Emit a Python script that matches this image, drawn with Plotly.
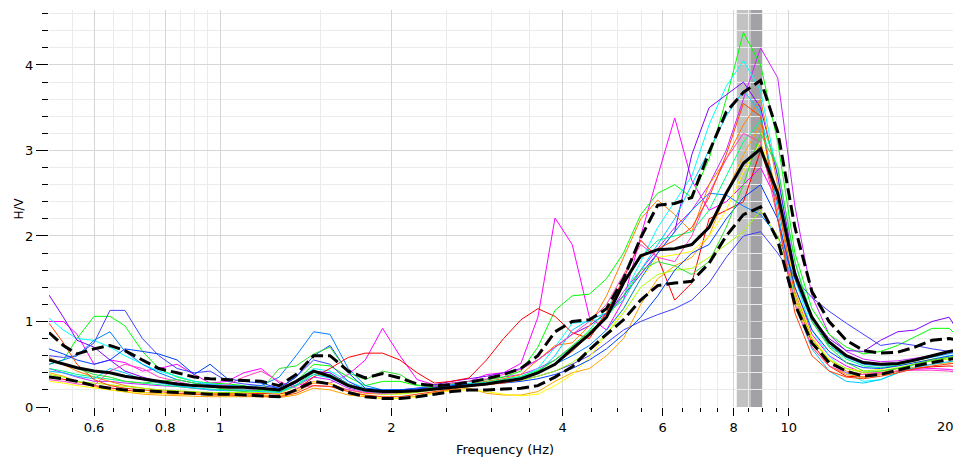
import math
import plotly.graph_objects as go

# ---------------- data ----------------
FREQ = [0.5, 0.53, 0.56, 0.6, 0.64, 0.68, 0.73, 0.78, 0.84, 0.9,
        0.96, 1.03, 1.1, 1.18, 1.27, 1.36, 1.46, 1.56, 1.68, 1.8,
        1.93, 2.07, 2.22, 2.38, 2.55, 2.74, 2.94, 3.15, 3.38, 3.62,
        3.88, 4.16, 4.46, 4.78, 5.12, 5.49, 5.88, 6.3, 6.75, 7.24,
        7.76, 8.32, 8.92, 9.56, 10.25, 10.98, 11.77, 12.62, 13.53, 14.5,
        15.54, 16.66, 17.86, 19.14, 20.0]

MEAN = [0.55, 0.5, 0.46, 0.42, 0.4, 0.36, 0.33, 0.3, 0.27, 0.25,
        0.24, 0.23, 0.23, 0.22, 0.2, 0.3, 0.42, 0.36, 0.25, 0.2,
        0.18, 0.18, 0.19, 0.21, 0.23, 0.25, 0.27, 0.3, 0.33, 0.4,
        0.5, 0.68, 0.85, 1.05, 1.45, 1.77, 1.84, 1.85, 1.9, 2.1,
        2.5, 2.85, 3.02, 2.5, 1.55, 1.05, 0.76, 0.6, 0.52, 0.5,
        0.51, 0.55, 0.6, 0.65, 0.67]

STD_UP = [0.87, 0.72, 0.62, 0.68, 0.72, 0.66, 0.55, 0.45, 0.4, 0.35,
          0.33, 0.32, 0.31, 0.3, 0.25, 0.38, 0.6, 0.6, 0.42, 0.34,
          0.39, 0.34, 0.27, 0.25, 0.26, 0.29, 0.33, 0.38, 0.45, 0.6,
          0.88, 1.0, 1.02, 1.15, 1.5, 1.98, 2.36, 2.38, 2.45, 2.98,
          3.45, 3.68, 3.82, 3.22, 2.1, 1.35, 1.0, 0.78, 0.66, 0.63,
          0.64, 0.7, 0.78, 0.8, 0.78]

STD_LOW = [0.35, 0.33, 0.3, 0.25, 0.22, 0.2, 0.19, 0.18, 0.17, 0.16,
           0.15, 0.15, 0.14, 0.13, 0.12, 0.2, 0.3, 0.27, 0.17, 0.12,
           0.1, 0.1, 0.12, 0.15, 0.18, 0.2, 0.2, 0.21, 0.22, 0.25,
           0.35, 0.47, 0.67, 0.85, 1.02, 1.25, 1.42, 1.45, 1.47, 1.68,
           2.0, 2.25, 2.34, 1.95, 1.2, 0.75, 0.52, 0.42, 0.36, 0.38,
           0.43, 0.48, 0.52, 0.56, 0.58]

W01 = [1.0, 1.0, 0.85, 0.5, 0.55, 0.52, 0.42, 0.45, 0.5, 0.38,
       0.28, 0.3, 0.4, 0.45, 0.28, 0.25, 0.3, 0.28, 0.38, 0.55,
       0.92, 0.6, 0.32, 0.26, 0.25, 0.3, 0.38, 0.4, 0.51, 1.05,
       2.21, 1.9, 1.05, 0.9, 1.25, 2.0, 2.7, 3.38, 2.65, 2.3,
       2.4, 2.6, 2.8, 2.4, 1.4, 0.85, 0.6, 0.48, 0.4, 0.4,
       0.42, 0.44, 0.45, 0.44, 0.42]
W02 = [0.45, 0.4, 0.35, 0.3, 0.3, 0.28, 0.26, 0.25, 0.24, 0.22,
       0.2, 0.2, 0.2, 0.2, 0.18, 0.25, 0.35, 0.32, 0.22, 0.18,
       0.16, 0.17, 0.2, 0.24, 0.28, 0.3, 0.32, 0.35, 0.38, 0.45,
       0.55, 0.7, 0.85, 1.05, 1.35, 1.6, 1.85, 2.1, 2.3, 2.6,
       3.0, 3.6, 4.2, 3.85, 2.35, 1.3, 0.85, 0.65, 0.56, 0.53,
       0.54, 0.57, 0.6, 0.64, 0.66]
W03 = [0.5, 0.55, 0.8, 1.06, 1.06, 0.95, 0.65, 0.45, 0.35, 0.3,
       0.28, 0.27, 0.25, 0.2, 0.18, 0.3, 0.5, 0.48, 0.35, 0.25,
       0.3, 0.3, 0.25, 0.25, 0.27, 0.3, 0.32, 0.35, 0.42, 0.7,
       1.13, 1.3, 1.32, 1.5, 1.8, 2.25, 2.5, 2.6, 2.45, 2.9,
       3.6, 4.38, 4.0, 3.1, 1.8, 1.15, 0.85, 0.7, 0.62, 0.65,
       0.72, 0.82, 0.92, 0.92, 0.8]
W04 = [1.04, 0.9, 0.8, 0.78, 0.7, 0.6, 0.5, 0.42, 0.36, 0.3,
       0.27, 0.25, 0.24, 0.22, 0.2, 0.3, 0.45, 0.42, 0.3, 0.22,
       0.2, 0.2, 0.2, 0.23, 0.25, 0.28, 0.3, 0.33, 0.35, 0.45,
       0.7, 0.98, 1.0, 1.05, 1.3, 1.7, 2.1, 2.4, 2.7, 3.3,
       3.75, 4.05, 3.7, 2.7, 1.5, 0.9, 0.6, 0.4, 0.3, 0.32,
       0.4, 0.5, 0.56, 0.6, 0.62]
W05 = [1.31, 1.05, 0.78, 0.7, 0.55, 0.42, 0.35, 0.3, 0.28, 0.25,
       0.24, 0.24, 0.23, 0.22, 0.2, 0.28, 0.42, 0.4, 0.27, 0.2,
       0.19, 0.2, 0.22, 0.26, 0.3, 0.33, 0.36, 0.4, 0.45, 0.55,
       0.7, 0.85, 0.95, 1.1, 1.3, 1.55, 1.8, 2.05, 2.95, 3.5,
       3.65, 3.8, 3.5, 2.7, 1.6, 1.05, 0.8, 0.66, 0.65, 0.78,
       0.88, 0.9, 1.0, 1.05, 0.85]
W06 = [0.6, 0.58, 0.6, 0.75, 1.13, 1.13, 0.8, 0.6, 0.45, 0.4,
       0.42, 0.3, 0.27, 0.25, 0.22, 0.35, 0.55, 0.5, 0.3, 0.2,
       0.18, 0.18, 0.2, 0.22, 0.24, 0.26, 0.28, 0.3, 0.32, 0.36,
       0.42, 0.5, 0.6, 0.75, 0.9, 1.0, 1.08, 1.15, 1.25, 1.45,
       1.75, 2.0, 2.05, 1.8, 1.5, 1.28, 1.12, 0.98, 0.85, 0.72,
       0.75, 0.72, 0.68, 0.65, 0.62]
W07 = [0.35, 0.32, 0.3, 0.25, 0.22, 0.2, 0.17, 0.16, 0.15, 0.15,
       0.15, 0.15, 0.15, 0.16, 0.15, 0.2, 0.35, 0.45, 0.58, 0.63,
       0.63, 0.55, 0.4, 0.28, 0.3, 0.34, 0.55, 0.8, 1.02, 1.15,
       1.06, 0.87, 0.8, 1.1, 1.5, 1.95, 1.75, 1.25, 1.45, 2.2,
       2.3, 2.4, 3.0, 2.4, 1.3, 0.75, 0.48, 0.36, 0.35, 0.38,
       0.42, 0.45, 0.47, 0.48, 0.47]
W08 = [0.58, 0.5, 0.42, 0.35, 0.3, 0.25, 0.22, 0.2, 0.18, 0.17,
       0.16, 0.16, 0.15, 0.14, 0.13, 0.18, 0.28, 0.27, 0.2, 0.16,
       0.15, 0.16, 0.18, 0.2, 0.24, 0.27, 0.3, 0.33, 0.38, 0.55,
       0.72, 0.75, 0.95, 1.3, 1.75, 2.2, 2.42, 2.25, 2.05, 2.6,
       2.9, 3.3, 3.6, 2.6, 1.35, 0.8, 0.55, 0.42, 0.38, 0.4,
       0.45, 0.5, 0.55, 0.58, 0.6]
W09 = [0.4, 0.36, 0.3, 0.24, 0.2, 0.18, 0.15, 0.14, 0.13, 0.12,
       0.12, 0.12, 0.12, 0.12, 0.11, 0.14, 0.22, 0.2, 0.14, 0.12,
       0.1, 0.1, 0.13, 0.17, 0.2, 0.22, 0.16, 0.14, 0.14, 0.18,
       0.3, 0.4, 0.45, 0.6, 0.8, 1.2, 1.5, 1.65, 1.75, 2.0,
       2.5, 2.95, 3.3, 2.45, 1.25, 0.7, 0.48, 0.38, 0.35, 0.38,
       0.42, 0.47, 0.5, 0.52, 0.55]
W10 = [0.3, 0.28, 0.25, 0.22, 0.2, 0.18, 0.17, 0.16, 0.15, 0.15,
       0.14, 0.14, 0.14, 0.14, 0.13, 0.2, 0.3, 0.28, 0.18, 0.13,
       0.1, 0.1, 0.12, 0.16, 0.19, 0.2, 0.18, 0.15, 0.13, 0.15,
       0.25, 0.38, 0.58, 0.85, 1.15, 1.5, 1.75, 1.78, 1.82, 2.0,
       2.3, 2.75, 3.1, 2.5, 1.4, 0.82, 0.56, 0.45, 0.42, 0.44,
       0.48, 0.52, 0.56, 0.58, 0.6]
W11 = [0.5, 0.55, 0.6, 0.78, 0.88, 0.65, 0.5, 0.4, 0.32, 0.28,
       0.26, 0.25, 0.24, 0.25, 0.35, 0.6, 0.88, 0.85, 0.45, 0.25,
       0.2, 0.2, 0.22, 0.24, 0.26, 0.27, 0.28, 0.3, 0.33, 0.4,
       0.5, 0.6, 0.72, 0.9, 1.15, 1.5, 1.8, 2.05, 2.3, 2.5,
       2.48, 2.35, 2.25, 2.0, 1.5, 1.0, 0.72, 0.58, 0.5, 0.48,
       0.5, 0.54, 0.58, 0.62, 0.65]
W12 = [0.38, 0.35, 0.3, 0.28, 0.26, 0.24, 0.22, 0.2, 0.19, 0.18,
       0.17, 0.17, 0.17, 0.17, 0.16, 0.24, 0.38, 0.36, 0.24, 0.18,
       0.15, 0.15, 0.17, 0.2, 0.23, 0.25, 0.27, 0.29, 0.31, 0.36,
       0.42, 0.52, 0.66, 0.85, 1.1, 1.4, 1.55, 1.6, 1.62, 1.75,
       1.9, 2.05, 2.3, 2.0, 1.3, 0.78, 0.55, 0.45, 0.4, 0.42,
       0.46, 0.5, 0.54, 0.56, 0.58]
W13 = [0.45, 0.42, 0.38, 0.35, 0.33, 0.3, 0.28, 0.26, 0.24, 0.22,
       0.21, 0.2, 0.2, 0.19, 0.18, 0.26, 0.4, 0.38, 0.27, 0.2,
       0.17, 0.17, 0.19, 0.22, 0.25, 0.27, 0.29, 0.32, 0.36, 0.43,
       0.55, 0.7, 0.9, 1.15, 1.45, 1.75, 1.95, 2.0, 2.05, 2.3,
       2.7, 3.1, 3.35, 2.8, 1.7, 1.05, 0.72, 0.56, 0.48, 0.46,
       0.49, 0.54, 0.6, 0.65, 0.68]
W14 = [0.42, 0.4, 0.36, 0.33, 0.45, 0.4, 0.32, 0.28, 0.25, 0.22,
       0.2, 0.19, 0.19, 0.18, 0.17, 0.25, 0.38, 0.34, 0.24, 0.18,
       0.16, 0.17, 0.2, 0.23, 0.25, 0.27, 0.28, 0.3, 0.33, 0.4,
       0.6, 0.9, 1.02, 1.1, 1.25, 1.6, 1.9, 2.2, 2.6, 3.0,
       3.4, 3.7, 3.45, 2.3, 1.2, 0.68, 0.42, 0.3, 0.28, 0.32,
       0.4, 0.46, 0.5, 0.53, 0.55]
W15 = [0.32, 0.3, 0.27, 0.25, 0.42, 0.5, 0.45, 0.35, 0.3, 0.25,
       0.24, 0.26, 0.35, 0.42, 0.3, 0.22, 0.25, 0.24, 0.2, 0.17,
       0.16, 0.17, 0.2, 0.24, 0.28, 0.3, 0.33, 0.38, 0.44, 0.55,
       0.7, 0.85, 1.0, 1.2, 1.55, 1.9, 1.75, 1.7, 2.0, 2.5,
       2.9, 3.2, 3.1, 2.2, 1.2, 0.7, 0.48, 0.4, 0.38, 0.4,
       0.42, 0.43, 0.43, 0.42, 0.4]
W16 = [0.68, 0.62, 0.55, 0.5, 0.55, 0.68, 0.65, 0.62, 0.55, 0.38,
       0.5, 0.33, 0.3, 0.28, 0.22, 0.35, 0.6, 0.72, 0.4, 0.22,
       0.2, 0.2, 0.21, 0.23, 0.25, 0.26, 0.27, 0.28, 0.3, 0.33,
       0.38, 0.45, 0.55, 0.68, 0.85, 1.05, 1.3, 1.6, 1.8, 1.9,
       2.2, 2.45, 2.6, 2.2, 1.4, 0.9, 0.65, 0.52, 0.46, 0.45,
       0.48, 0.52, 0.56, 0.6, 0.62]
W17 = [0.98, 0.75, 0.5, 0.32, 0.25, 0.22, 0.2, 0.18, 0.16, 0.15,
       0.14, 0.14, 0.13, 0.13, 0.12, 0.16, 0.25, 0.24, 0.18, 0.14,
       0.12, 0.12, 0.15, 0.18, 0.21, 0.24, 0.26, 0.28, 0.32, 0.4,
       0.5, 0.65, 0.85, 1.1, 1.45, 1.75, 1.85, 1.95, 2.1, 2.45,
       2.95, 3.55, 3.4, 2.2, 1.1, 0.6, 0.42, 0.35, 0.33, 0.36,
       0.4, 0.45, 0.48, 0.5, 0.52]
W18 = [0.55, 0.5, 0.45, 0.38, 0.35, 0.3, 0.28, 0.3, 0.32, 0.28,
       0.24, 0.2, 0.18, 0.2, 0.45, 0.48, 0.62, 0.7, 0.4, 0.32,
       0.42, 0.38, 0.26, 0.22, 0.22, 0.24, 0.27, 0.3, 0.34, 0.42,
       0.55, 0.72, 0.88, 1.05, 1.3, 1.6, 1.7, 1.65, 1.55, 1.7,
       2.1, 2.6, 3.2, 2.8, 1.7, 1.0, 0.7, 0.52, 0.42, 0.42,
       0.45, 0.5, 0.55, 0.58, 0.6]

WINDOWS = [W01, W02, W03, W04, W05, W06, W07, W08, W09,
           W10, W11, W12, W13, W14, W15, W16, W17, W18]
WINDOW_COLORS = ["#ff00ff", "#cc22ff", "#00ff00", "#00ffff", "#8000ff",
                 "#4040ff", "#ff0000", "#ff8000", "#ffa500", "#ffff00",
                 "#0080ff", "#a8ff00", "#00ff80", "#00c8ff", "#ff40c0",
                 "#0040ff", "#ff4000", "#30e030"]

PEAK_BAND = [8.1, 8.58, 9.0]     # f0/std, f0, f0*std

X_TICKS = [0.6, 0.8, 1, 2, 4, 6, 8, 10, 20]
X_TICK_TEXT = ["0.6", "0.8", "1", "2", "4", "6", "8", "10", "20"]
X_MINOR = [0.5, 0.55, 0.65, 0.7, 0.75, 0.85, 0.9, 0.95, 1.5, 2.5, 3, 3.5,
           4.5, 5, 5.5, 6.5, 7, 7.5, 8.5, 9, 9.5, 15]
Y_TICKS = [0, 1, 2, 3, 4]
X_RANGE = [0.5, 20]
Y_RANGE = [0, 4.643]

for w in WINDOWS + [MEAN, STD_UP, STD_LOW]:
    assert len(w) == len(FREQ), len(w)

# ---------------- figure ----------------
fig = go.Figure()
for vals, col in zip(WINDOWS, WINDOW_COLORS):
    fig.add_trace(go.Scatter(x=FREQ, y=vals, mode="lines",
                             line=dict(color=col, width=1), hoverinfo="skip"))
for band in (STD_UP, STD_LOW):
    fig.add_trace(go.Scatter(x=FREQ, y=band, mode="lines",
                             line=dict(color="black", width=3, dash="12px,5px"),
                             hoverinfo="skip"))
fig.add_trace(go.Scatter(x=FREQ, y=MEAN, mode="lines",
                         line=dict(color="black", width=3), hoverinfo="skip"))

fig.add_shape(type="rect", xref="x", yref="paper",
              x0=PEAK_BAND[0], x1=PEAK_BAND[1],
              y0=0, y1=1, fillcolor="#c2c2c2", line_width=0, layer="between")
fig.add_shape(type="rect", xref="x", yref="paper",
              x0=PEAK_BAND[1], x1=PEAK_BAND[2],
              y0=0, y1=1, fillcolor="#a2a2a6", line_width=0, layer="between")

FONT = "DejaVu Sans"
# the page body adds an 8 px offset, so the figure is 8 px smaller each way
fig.update_layout(
    width=953, height=453,
    margin=dict(l=41, r=1, t=2, b=54),
    plot_bgcolor="white", paper_bgcolor="white",
    showlegend=False,
    font=dict(family=FONT, size=13, color="#000000"),
    xaxis=dict(
        type="log", range=[math.log10(X_RANGE[0]), math.log10(X_RANGE[1])],
        tickmode="array", tickvals=X_TICKS, ticktext=X_TICK_TEXT,
        ticks="outside", ticklen=8, tickwidth=1, tickcolor="#000000",
        showgrid=True, gridcolor="#d6d6d6", gridwidth=1,
        showline=False, zeroline=False, automargin=False,
        minor=dict(tickmode="array", tickvals=X_MINOR, ticks="outside",
                   ticklen=4, tickwidth=1, tickcolor="#000000",
                   showgrid=True, gridcolor="#ebebeb", gridwidth=1),
    ),
    yaxis=dict(
        range=Y_RANGE, tickmode="array", tickvals=Y_TICKS,
        ticks="outside", ticklen=12, tickwidth=1, tickcolor="#000000",
        showgrid=True, gridcolor="#d6d6d6", gridwidth=1,
        showline=False, zeroline=False, automargin=False,
        minor=dict(tick0=0, dtick=0.2, ticks="outside", ticklen=6,
                   tickwidth=1, tickcolor="#000000",
                   showgrid=True, gridcolor="#ebebeb", gridwidth=1),
    ),
    annotations=[
        dict(text="H/V", xref="paper", yref="paper", x=-0.034, y=0.5,
             textangle=-90, showarrow=False, xanchor="center", yanchor="middle",
             font=dict(family=FONT, size=12, color="#000000")),
        dict(text="Frequency (Hz)", xref="paper", yref="paper", x=0.5, y=-0.108,
             showarrow=False, xanchor="center", yanchor="middle",
             font=dict(family=FONT, size=13, color="#000000")),
        # last tick label sits at the right edge; right-aligned so it stays visible
        dict(text=X_TICK_TEXT[-1], xref="x", yref="paper",
             x=math.log10(X_TICKS[-1]), y=-0.048, xshift=-4,
             showarrow=False, xanchor="right", yanchor="middle",
             font=dict(family=FONT, size=13, color="#000000")),
    ],
)

fig.write_html("out.html")
